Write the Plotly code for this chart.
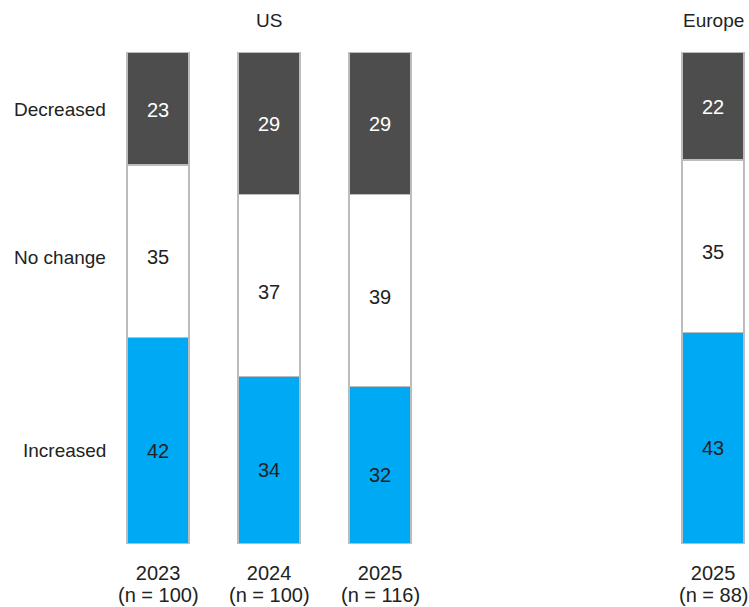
import plotly.graph_objects as go

# ---- data ----
groups = ["US", "US", "US", "Europe"]
years = ["2023", "2024", "2025", "2025"]
sample_sizes = [100, 100, 116, 88]
x_pos = [0, 1, 2, 5]
categories = ["Increased", "No change", "Decreased"]
increased = [42, 34, 32, 43]
no_change = [35, 37, 39, 35]
decreased = [23, 29, 29, 22]
group_titles = ["US", "Europe"]
group_title_x = [1, 5]

# ---- style ----
FONT = "Liberation Sans, Arial, sans-serif"
TXT = "#222222"
colors = {"Increased": "#00a9f4", "No change": "#ffffff", "Decreased": "#4d4d4d"}
label_colors = {"Increased": TXT, "No change": TXT, "Decreased": "#ffffff"}
label_shift = {"Increased": -10, "No change": -6, "Decreased": -1}
FS = 19
FS_NUM = 20

series = {"Increased": increased, "No change": no_change, "Decreased": decreased}

fig = go.Figure()
annotations = []
base = [0] * len(x_pos)
for cat in categories:
    vals = series[cat]
    fig.add_trace(go.Bar(
        x=x_pos, y=vals, name=cat,
        width=0.56,
        marker=dict(color=colors[cat], line=dict(color="#bcbcbc", width=1.5)),
        hoverinfo="skip",
    ))
    for i, (xv, v) in enumerate(zip(x_pos, vals)):
        annotations.append(dict(
            x=xv, y=base[i] + v / 2, xref="x", yref="y", text=str(v),
            showarrow=False, yshift=label_shift[cat],
            font=dict(family=FONT, size=FS_NUM, color=label_colors[cat]),
        ))
    # row label aligned with first bar
    annotations.append(dict(
        x=x_pos[0], y=base[0] + vals[0] / 2, xref="x", yref="y", text=cat,
        showarrow=False, xanchor="right", xshift=-50, yshift=label_shift[cat],
        font=dict(family=FONT, size=FS, color=TXT),
    ))
    base = [b + v for b, v in zip(base, vals)]

for t, xv in zip(group_titles, group_title_x):
    annotations.append(dict(
        x=xv, y=1, xref="x", yref="paper", text=t, showarrow=False,
        yanchor="middle", yshift=32,
        font=dict(family=FONT, size=FS, color=TXT),
    ))

# sample-size line under each year label
for xv, n in zip(x_pos, sample_sizes):
    annotations.append(dict(
        x=xv, y=0, xref="x", yref="paper", text=f"(n = {n})", showarrow=False,
        yanchor="middle", yshift=-51,
        font=dict(family=FONT, size=FS_NUM, color=TXT),
    ))

fig.update_layout(
    barmode="stack",
    width=749, height=607,
    margin=dict(l=47, r=3, t=52, b=63, autoexpand=False),
    paper_bgcolor="white", plot_bgcolor="white",
    showlegend=False,
    annotations=annotations,
    xaxis=dict(
        range=[-1, 5.297], tickvals=x_pos, ticktext=years,
        showgrid=False, zeroline=False, showline=False, ticks="",
        ticklabelstandoff=15, automargin=False,
        tickfont=dict(family=FONT, size=FS_NUM, color=TXT),
        fixedrange=True,
    ),
    yaxis=dict(
        range=[0, 100], visible=False, showgrid=False, zeroline=False,
        fixedrange=True, automargin=False,
    ),
)

fig.write_html("out.html")
